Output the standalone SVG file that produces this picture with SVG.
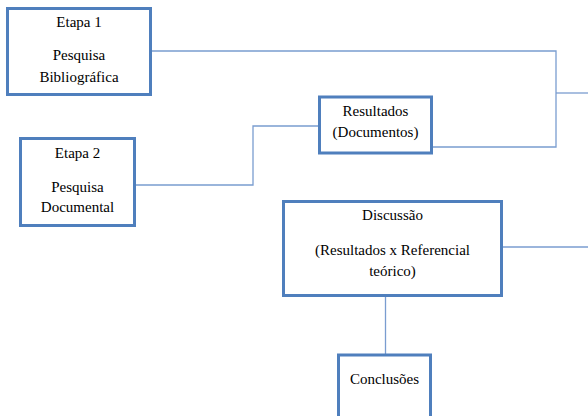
<svg xmlns="http://www.w3.org/2000/svg" width="588" height="416" viewBox="0 0 588 416">
<style>
.box{fill:#fff;stroke:#4f7fbd;stroke-width:3}
.t{font-family:"Liberation Serif","Times New Roman",serif;font-size:15px;fill:#000;text-anchor:middle}
.c{fill:none;stroke:#7a9dd0;stroke-width:1.3}
</style>
<rect width="588" height="416" fill="#fff"/>
<g id="connectors">
<polyline class="c" points="151,51 556,51 556,147 432,147"/>
<line class="c" x1="556" y1="93" x2="588" y2="93"/>
<polyline class="c" points="319,126 253,126 253,185 135,185"/>
<line class="c" x1="502" y1="247" x2="588" y2="247"/>
<line class="c" x1="385.5" y1="296" x2="385.5" y2="354"/>
</g>
<g id="etapa1">
<rect class="box" x="7.5" y="8.5" width="143" height="86"/>
<text class="t" x="79" y="27">Etapa 1</text>
<text class="t" x="79" y="60">Pesquisa</text>
<text class="t" x="79" y="81.5">Bibliográfica</text>
</g>
<g id="etapa2">
<rect class="box" x="20.5" y="138.5" width="114" height="87"/>
<text class="t" x="77.5" y="157.5">Etapa 2</text>
<text class="t" x="77.5" y="191.5">Pesquisa</text>
<text class="t" x="77.5" y="211.5">Documental</text>
</g>
<g id="resultados">
<rect class="box" x="319.5" y="97" width="112" height="56"/>
<text class="t" x="375.5" y="116">Resultados</text>
<text class="t" x="375.5" y="136.5">(Documentos)</text>
</g>
<g id="discussao">
<rect class="box" x="283.5" y="201.5" width="218" height="94"/>
<text class="t" x="392.5" y="220">Discussão</text>
<text class="t" x="392.5" y="255">(Resultados x Referencial</text>
<text class="t" x="392.5" y="276">teórico)</text>
</g>
<g id="conclusoes">
<rect class="box" x="338.5" y="355" width="92" height="80"/>
<text class="t" x="384.5" y="383.5">Conclusões</text>
</g>
</svg>
